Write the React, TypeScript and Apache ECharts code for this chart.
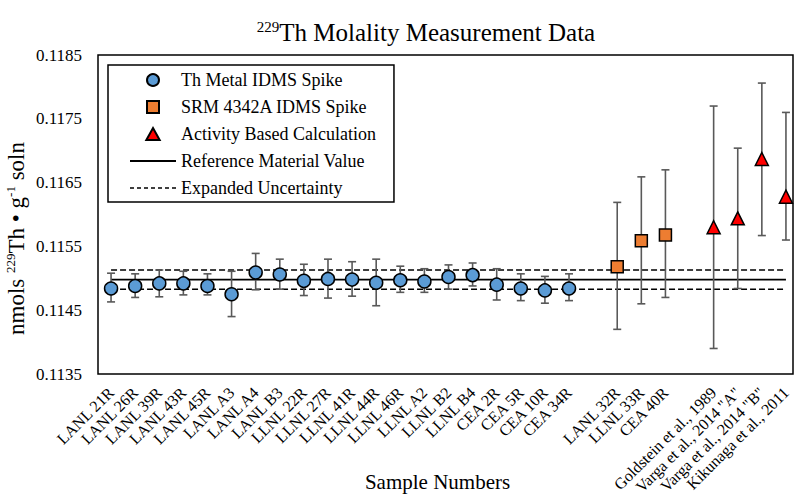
import React, { useEffect, useRef } from "react";
import * as echarts from "echarts";

const FONT = "'Liberation Serif', 'Times New Roman', serif";

const categories = [
  "LANL 21R", "LANL 26R", "LANL 39R", "LANL 43R", "LANL 45R", "LANL A3", "LANL A4", "LANL B3",
  "LLNL 22R", "LLNL 27R", "LLNL 41R", "LLNL 44R", "LLNL 46R", "LLNL A2", "LLNL B2", "LLNL B4",
  "CEA 2R", "CEA 5R", "CEA 10R", "CEA 34R", " ",
  "LANL 32R", "LLNL 33R", "CEA 40R", "  ",
  "Goldstein et al., 1989", 'Varga et al., 2014 "A"', 'Varga et al., 2014 "B"', "Kikunaga et al., 2011",
];

// Th Metal IDMS Spike: [categoryIndex, value, low, high]
const thMetal = [
  [0, 0.11484, 0.11463, 0.11508],
  [1, 0.11488, 0.1147, 0.11507],
  [2, 0.11492, 0.11471, 0.11513],
  [3, 0.11492, 0.11474, 0.11511],
  [4, 0.11488, 0.11474, 0.11507],
  [5, 0.11475, 0.1144, 0.11511],
  [6, 0.11509, 0.11482, 0.11539],
  [7, 0.11506, 0.11483, 0.1153],
  [8, 0.11496, 0.11473, 0.11522],
  [9, 0.11499, 0.11469, 0.1153],
  [10, 0.11498, 0.11472, 0.11526],
  [11, 0.11493, 0.11457, 0.1153],
  [12, 0.11497, 0.11478, 0.11519],
  [13, 0.11495, 0.11478, 0.11515],
  [14, 0.11502, 0.11483, 0.11521],
  [15, 0.11505, 0.11488, 0.11524],
  [16, 0.1149, 0.11466, 0.11515],
  [17, 0.11484, 0.11465, 0.11507],
  [18, 0.11481, 0.11461, 0.11503],
  [19, 0.11484, 0.11465, 0.11507],
];

// SRM 4342A IDMS Spike
const srm = [
  [21, 0.11518, 0.1142, 0.11619],
  [22, 0.11559, 0.1146, 0.11659],
  [23, 0.11568, 0.1147, 0.1167],
];

// Activity Based Calculation
const activity = [
  [25, 0.1158, 0.1139, 0.1177],
  [26, 0.11594, 0.11484, 0.11704],
  [27, 0.11687, 0.11567, 0.11806],
  [28, 0.11628, 0.1156, 0.1176],
];

const refValue = 0.11498;
const uncUpper = 0.11513;
const uncLower = 0.11483;
const lineSpan = [0, 28];

const yMin = 0.1135;
const yMax = 0.1185;
const yStep = 0.001;

const ICON_SQUARE = "path://M0,0h10v10h-10z";
const ICON_TRIANGLE = "path://M5,0L10,9L0,9z";
const ICON_SOLID = "path://M0,0h46v1.8h-46z";
const ICON_DASHED =
  "path://M0,0h4v1.5h-4z M7,0h4v1.5h-4z M14,0h4v1.5h-4z M21,0h4v1.5h-4z M28,0h4v1.5h-4z M35,0h4v1.5h-4z M42,0h4v1.5h-4z";

export default function App() {
  const ref = useRef<HTMLDivElement>(null);

  useEffect(() => {
    if (!ref.current) return;
    const chart = echarts.init(ref.current, null, { renderer: "svg" });

    const allBars = [...thMetal, ...srm, ...activity].map((d) => [d[0], d[2], d[3]]);

    const markerBorder = { borderColor: "#000", borderWidth: 1.5 };

    chart.setOption({
      animation: false,
      backgroundColor: "#fff",
      textStyle: { fontFamily: FONT, color: "#000" },
      title: {
        text: "{s|229}{t|Th Molality Measurement Data}",
        left: 421,
        textAlign: "center",
        top: 14,
        textStyle: {
          fontWeight: "normal",
          rich: {
            s: { fontFamily: FONT, fontSize: 15, fontWeight: "normal", color: "#000", verticalAlign: "top", lineHeight: 15 },
            t: { fontFamily: FONT, fontSize: 25, fontWeight: "normal", color: "#000", lineHeight: 27 },
          },
        },
      },
      legend: {
        orient: "vertical",
        left: 108,
        top: 65,
        padding: [6, 18, 5, 22],
        itemGap: 9,
        itemWidth: 46,
        itemHeight: 12,
        borderColor: "#000",
        borderWidth: 1.5,
        symbolKeepAspect: true,
        textStyle: { fontFamily: FONT, fontSize: 18, color: "#000" },
        data: [
          { name: "Th Metal IDMS Spike", icon: "circle" },
          { name: "SRM 4342A IDMS Spike", icon: ICON_SQUARE },
          { name: "Activity Based Calculation", icon: ICON_TRIANGLE },
          { name: "Reference Material Value", icon: ICON_SOLID },
          { name: "Expanded Uncertainty", icon: ICON_DASHED },
        ],
      },
      grid: [
        { left: 99, right: 2, top: 55, bottom: 122, show: false, containLabel: false, outerBoundsMode: "none" },
        {
          left: 98, right: 7, top: 55, bottom: 122, show: true, containLabel: false, outerBoundsMode: "none",
          borderColor: "#000", borderWidth: 1.5, backgroundColor: "transparent",
        },
      ],
      xAxis: [
        {
          type: "category",
          gridIndex: 0,
          data: categories,
          boundaryGap: true,
          axisLine: { show: false },
          axisTick: { show: false },
          splitLine: { show: false },
          axisLabel: {
            interval: 0,
            rotate: 45,
            margin: 16,
            align: "right",
            verticalAlign: "middle",
            fontFamily: FONT,
            fontSize: 16,
            color: "#000",
          },
          name: "Sample Numbers",
          nameLocation: "middle",
          nameGap: 97,
          nameMoveOverlap: false,
          nameTextStyle: { fontFamily: FONT, fontSize: 21, color: "#000", padding: [0, 22, 0, 0] },
        },
        { type: "value", gridIndex: 1, show: false, min: 0, max: 1 },
      ],
      yAxis: [
        {
          type: "value",
          gridIndex: 0,
          min: yMin,
          max: yMax,
          interval: yStep,
          axisLine: { show: false },
          axisTick: { show: false },
          splitLine: { show: false },
          axisLabel: {
            margin: 17,
            fontFamily: FONT,
            fontSize: 17,
            color: "#000",
            formatter: (v: number) => v.toFixed(4),
          },
          name: "{a|nmols }{s|229}{a|Th • g}{s|-1}{a| soln}",
          nameLocation: "middle",
          nameGap: 70,
          nameMoveOverlap: false,
          nameTextStyle: {
            padding: [0, 48, 0, 0],
            rich: {
              a: { fontFamily: FONT, fontSize: 23, color: "#000", lineHeight: 25 },
              s: { fontFamily: FONT, fontSize: 13, color: "#000", verticalAlign: "top", lineHeight: 13 },
            },
          },
        },
        { type: "value", gridIndex: 1, show: false, min: 0, max: 1 },
      ],
      series: [
        {
          name: "Reference Material Value",
          type: "line",
          xAxisIndex: 0,
          yAxisIndex: 0,
          symbol: "none",
          z: 1,
          lineStyle: { color: "#000", width: 1.8, type: "solid" },
          itemStyle: { color: "#000" },
          data: lineSpan.map((x) => [x, refValue]),
        },
        {
          name: "Expanded Uncertainty",
          type: "line",
          symbol: "none",
          z: 1,
          lineStyle: { color: "#000", width: 1.5, type: [6, 3] },
          itemStyle: { color: "#000" },
          data: lineSpan.map((x) => [x, uncUpper]),
        },
        {
          name: "Expanded Uncertainty",
          type: "line",
          symbol: "none",
          z: 1,
          lineStyle: { color: "#000", width: 1.5, type: [6, 3] },
          itemStyle: { color: "#000" },
          data: lineSpan.map((x) => [x, uncLower]),
        },
        {
          name: "errorbars",
          type: "custom",
          z: 2,
          encode: { x: 0, y: [1, 2] },
          data: allBars,
          renderItem: (params: any, api: any) => {
            const x = api.value(0);
            const lo = api.coord([x, api.value(1)]);
            const hi = api.coord([x, api.value(2)]);
            const w = 4;
            const style = { stroke: "#595959", lineWidth: 1.6 };
            return {
              type: "group",
              children: [
                { type: "line", shape: { x1: lo[0], y1: lo[1], x2: hi[0], y2: hi[1] }, style },
                { type: "line", shape: { x1: lo[0] - w, y1: lo[1], x2: lo[0] + w, y2: lo[1] }, style },
                { type: "line", shape: { x1: hi[0] - w, y1: hi[1], x2: hi[0] + w, y2: hi[1] }, style },
              ],
            };
          },
        },
        {
          name: "Th Metal IDMS Spike",
          type: "scatter",
          z: 3,
          symbol: "circle",
          symbolSize: 13,
          itemStyle: { color: "#5B9BD5", ...markerBorder, opacity: 1 },
          data: thMetal.map((d) => [d[0], d[1]]),
        },
        {
          name: "SRM 4342A IDMS Spike",
          type: "scatter",
          z: 3,
          symbol: "rect",
          symbolSize: 12,
          itemStyle: { color: "#ED7D31", ...markerBorder, opacity: 1 },
          data: srm.map((d) => [d[0], d[1]]),
        },
        {
          name: "Activity Based Calculation",
          type: "scatter",
          z: 3,
          symbol: "triangle",
          symbolSize: 13,
          itemStyle: { color: "#FF0000", ...markerBorder, opacity: 1 },
          data: activity.map((d) => [d[0], d[1]]),
        },
      ],
    });

    return () => chart.dispose();
  }, []);

  return <div ref={ref} style={{ position: "fixed", left: 0, top: 0, width: 800, height: 496 }} />;
}
